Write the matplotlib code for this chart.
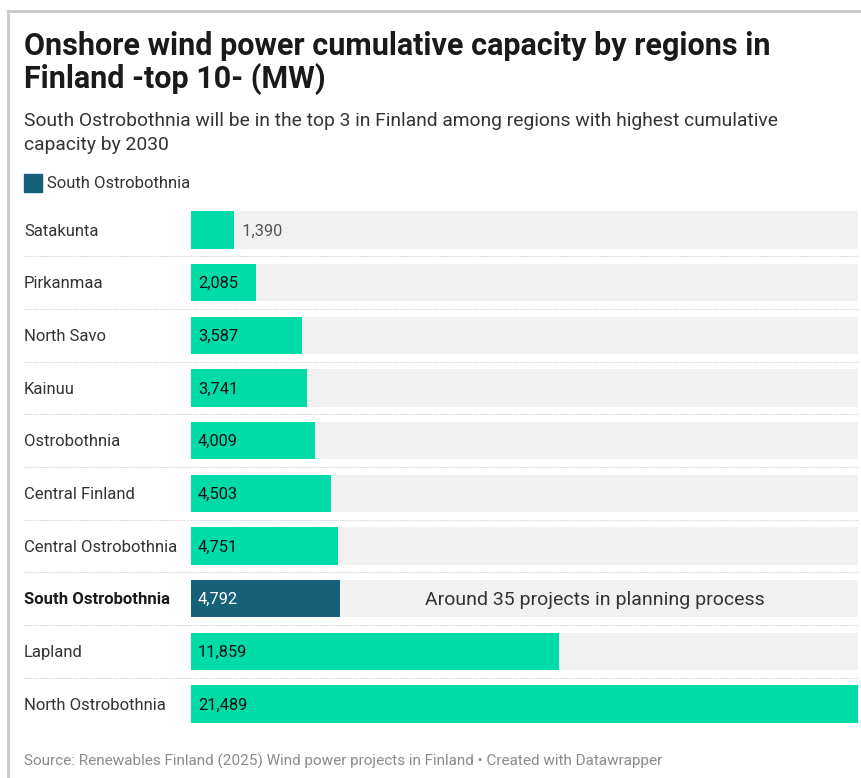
import matplotlib
matplotlib.use("Agg")
import matplotlib.pyplot as plt
from matplotlib.lines import Line2D
from matplotlib.patches import Rectangle

plt.rcParams['font.family'] = ['Roboto', 'DejaVu Sans']

regions = ["Satakunta", "Pirkanmaa", "North Savo", "Kainuu", "Ostrobothnia",
           "Central Finland", "Central Ostrobothnia", "South Ostrobothnia",
           "Lapland", "North Ostrobothnia"]
capacity = [1390, 2085, 3587, 3741, 4009, 4503, 4751, 4792, 11859, 21489]
highlight = "South Ostrobothnia"

title_lines = ["Onshore wind power cumulative capacity by regions in", "Finland -top 10- (MW)"]
subtitle_lines = ["South Ostrobothnia will be in the top 3 in Finland among regions with highest cumulative",
                  "capacity by 2030"]
annotation = "Around 35 projects in planning process"
source = "Source: Renewables Finland (2025) Wind power projects in Finland • Created with Datawrapper"

GREEN = "#00dca8"
BLUE = "#17607a"
BG = "#f1f1f1"

W, H = 861, 778
fig = plt.figure(figsize=(W / 100, H / 100), dpi=100)

def fx(px):
    return px / W

def fy(py):
    return 1 - py / H

# frame
fig.add_artist(Line2D([fx(8), fx(861)], [fy(11), fy(11)], color="#c8c8c8", lw=2))
fig.add_artist(Line2D([fx(8), fx(8)], [fy(11), fy(778)], color="#c8c8c8", lw=2))

fig.text(fx(24), fy(46), title_lines[0], fontsize=22, fontweight="bold",
         color="#1a1a1a", va="center", ha="left")
fig.text(fx(24), fy(79), title_lines[1], fontsize=22, fontweight="bold",
         color="#1a1a1a", va="center", ha="left")
fig.text(fx(24), fy(121), subtitle_lines[0], fontsize=13.9, color="#333333", va="center", ha="left")
fig.text(fx(24), fy(145), subtitle_lines[1], fontsize=13.9, color="#333333", va="center", ha="left")

# legend
fig.add_artist(Rectangle((fx(24), fy(192)), fx(18), 18 / H, color=BLUE, transform=fig.transFigure))
fig.text(fx(47), fy(183), highlight, fontsize=12, color="#333333", va="center", ha="left")

# axes
top_c, step = 230, 52.67
ax_top = top_c - step / 2
ax_bot = top_c + 9 * step + step / 2
ax = fig.add_axes([fx(191), fy(ax_bot), fx(858) - fx(191), (ax_bot - ax_top) / H])
ax.set_xlim(0, max(capacity))
ax.set_ylim(len(regions) - 0.5, -0.5)
ax.axis("off")

n = len(regions)
ypos = list(range(n))
ax.barh(ypos, [max(capacity)] * n, height=0.71, color=BG, zorder=1)
colors = [BLUE if r == highlight else GREEN for r in regions]
ax.barh(ypos, capacity, height=0.71, color=colors, zorder=2)

for i, (r, v) in enumerate(zip(regions, capacity)):
    fig_y = top_c + i * step + 1
    fig.text(fx(24), fy(fig_y), r, fontsize=12,
             fontweight="bold" if r == highlight else "normal",
             color="#1a1a1a" if r == highlight else "#333333", va="center", ha="left")
    label = f"{v:,}"
    if v < 1800:
        ax.text(v, i + 0.02, "  " + label, va="center", ha="left", fontsize=11.8, color="#555555", zorder=3)
    else:
        ax.text(max(capacity) * 0.0105, i + 0.02, label, va="center", ha="left", fontsize=11.8,
                color="white" if r == highlight else "#111111", zorder=3)
    if i < n - 1:
        sep = fy(top_c + i * step + step / 2)
        fig.add_artist(Line2D([fx(24), fx(858)], [sep, sep], color="#d0d0d0", lw=0.8,
                              linestyle=(0, (1, 1))))

hi = regions.index(highlight)
ax.text(max(capacity) * (595 - 191) / 667, hi + 0.02, annotation, va="center", ha="center",
        fontsize=14, color="#333333", zorder=3)

fig.text(fx(24), fy(761), source, fontsize=11, color="#8a8a8a", va="center", ha="left")

fig.savefig("out.png", dpi=100)
